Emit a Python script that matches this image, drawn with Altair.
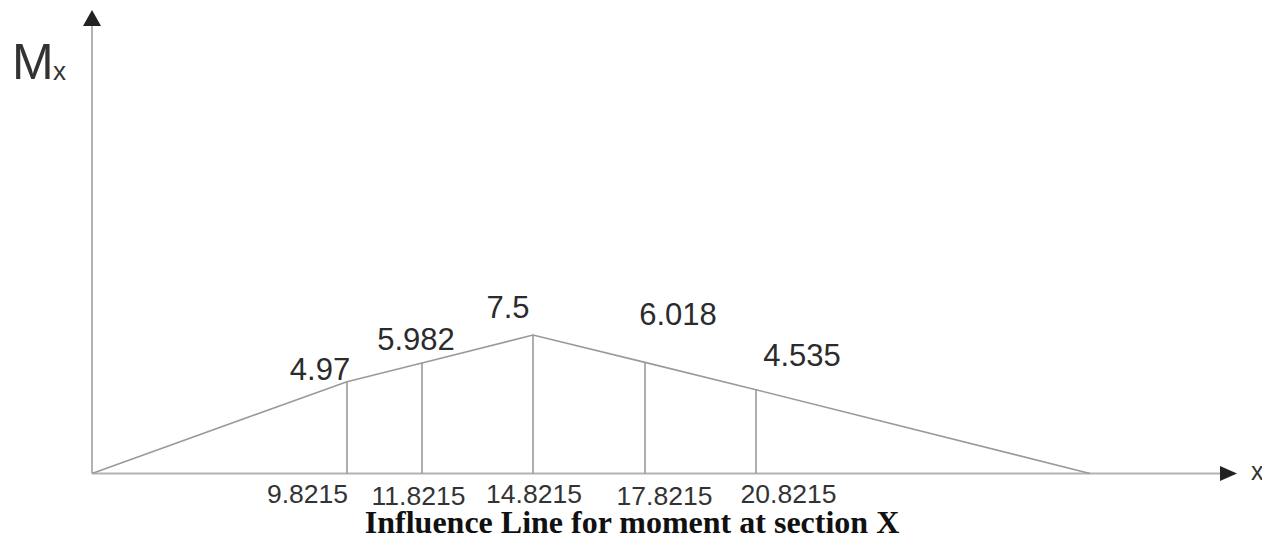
import altair as alt
import pandas as pd

# ---- data ----
span = [0.0, 30.0]                                   # supports (x)
sections = [9.8215, 11.8215, 14.8215, 17.8215, 20.8215]
ordinates = [4.97, 5.982, 7.5, 6.018, 4.535]          # Mx ordinates
section_labels = ["9.8215", "11.8215", "14.8215", "17.8215", "20.8215"]
ordinate_labels = ["4.97", "5.982", "7.5", "6.018", "4.535"]
title_text = "Influence Line for moment at section X"

line_df = pd.DataFrame({"x": [span[0]] + sections + [span[1]],
                        "m": [0.0] + ordinates + [0.0]})
sec_df = pd.DataFrame({"x": sections, "m": ordinates, "zero": [0.0] * len(sections),
                       "sec": section_labels, "val": ordinate_labels,
                       "i": list(range(len(sections)))})
origin_df = pd.DataFrame({"x": [span[0]], "m": [0.0]})

# ---- layout / style ----
W, H = 1254, 526
# schematic (not-to-scale) drawing: piecewise linear x scale
xscale = alt.Scale(domain=[span[0]] + sections + [span[1]],
                   range=[84, 339, 414, 525, 637, 748, 1082], nice=False, zero=False)
yscale = alt.Scale(domain=[0, 7.5], range=[465.5, 327], nice=False, zero=False)

SANS = "Liberation Sans"
LINE = "#9a9a9a"
AXIS = "#b3b3b3"


def X(f):
    return alt.X(f, scale=xscale, axis=None)


def Y(f):
    return alt.Y(f, scale=yscale, axis=None)


base = alt.Chart(sec_df)
orig = alt.Chart(origin_df)

x_axis = orig.mark_rule(color=AXIS, strokeWidth=2).encode(
    x=X("x:Q"), x2=alt.value(1214), y=Y("m:Q"))
y_axis = orig.mark_rule(color=AXIS, strokeWidth=2).encode(
    x=X("x:Q"), y=Y("m:Q"), y2=alt.value(18))

arrow_up = orig.mark_point(
    shape="M0,-0.9L1,0.9L-1,0.9Z", filled=True, opacity=1, color="#222222", size=324
).encode(x=X("x:Q"), y=alt.value(10))
arrow_right = orig.mark_point(
    shape="M-1,-0.88L1,0L-1,0.88Z", filled=True, opacity=1, color="#222222", size=289
).encode(x=alt.value(1220.5), y=Y("m:Q"))

il_line = alt.Chart(line_df).mark_line(color=LINE, strokeWidth=1.6).encode(
    x=X("x:Q"), y=Y("m:Q"))

verticals = base.mark_rule(color=LINE, strokeWidth=1.6).encode(
    x=X("x:Q"), y=Y("zero:Q"), y2=alt.Y2("m:Q"))

# label offsets (style, not data)
val_off = [(-27, -2), (-6, -13), (-25, -17), (33, -37), (46, -24)]
sec_off = [(-39.5, 29), (-3.5, 31.5), (1, 29), (19.5, 31.5), (32.5, 29.5)]

layers = [x_axis, y_axis, il_line, verticals, arrow_up, arrow_right]
for i, (dx, dy) in enumerate(val_off):
    layers.append(base.transform_filter(alt.datum.i == i).mark_text(
        font=SANS, fontSize=31, color="#2b2b2b", align="center",
        baseline="alphabetic", dx=dx, dy=dy).encode(
        x=X("x:Q"), y=Y("m:Q"), text="val:N"))
for i, (dx, dy) in enumerate(sec_off):
    layers.append(base.transform_filter(alt.datum.i == i).mark_text(
        font=SANS, fontSize=26.5, color="#333333", align="center",
        baseline="alphabetic", dx=dx, dy=dy).encode(
        x=X("x:Q"), y=Y("zero:Q"), text="sec:N"))

ann = alt.Chart(pd.DataFrame({"t": ["M", "x", title_text]}))
layers += [
    ann.transform_filter(alt.datum.t == "M").mark_text(
        font=SANS, fontSize=50, color="#333333", align="left", baseline="alphabetic"
    ).encode(x=alt.value(4), y=alt.value(71), text="t:N"),
    ann.transform_filter(alt.datum.t == "x").mark_text(
        font=SANS, fontSize=26, color="#333333", align="left", baseline="alphabetic"
    ).encode(x=alt.value(45), y=alt.value(72), text="t:N"),
    ann.transform_filter(alt.datum.t == "x").mark_text(
        font=SANS, fontSize=25, color="#333333", align="left", baseline="alphabetic"
    ).encode(x=alt.value(1243), y=alt.value(472), text="t:N"),
    ann.transform_filter(alt.datum.t == title_text).mark_text(
        font="Liberation Serif", fontSize=32, fontWeight="bold", color="#111111",
        align="center", baseline="alphabetic"
    ).encode(x=alt.value(624), y=alt.value(525), text="t:N"),
]

chart = alt.layer(*layers).properties(
    width=W, height=H, padding=0,
    autosize=alt.AutoSizeParams(type="none"),
).configure_view(strokeWidth=0)

chart.save("out.html", embed_options={"renderer": "svg", "actions": False})
